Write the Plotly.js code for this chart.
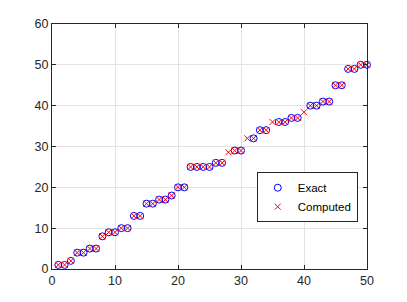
<!DOCTYPE html>
<html>
<head>
<script src="https://cdn.plot.ly/plotly-3.0.1.min.js"></script>
<style>html,body{margin:0;padding:0;background:#fff;}#chart{width:407px;height:302px;}</style>
</head>
<body>
<div id="chart"></div>
<script>
const xValues = [1,2,3,4,5,6,7,8,9,10,11,12,13,14,15,16,17,18,19,20,21,22,23,24,25,26,27,28,29,30,31,32,33,34,35,36,37,38,39,40,41,42,43,44,45,46,47,48,49,50];
const exactValues = [1,1,2,4,4,5,5,8,9,9,10,10,13,13,16,16,17,17,18,20,20,25,25,25,25,26,26,null,29,29,null,32,34,34,null,36,36,37,37,null,40,40,41,41,45,45,49,49,50,50];
const computedValues = [1,1,2,4,4,5,5,8,9,9,10,10,13,13,16,16,17,17,18,20,20,25,25,25,25,26,26,28.6,29,29,32,32,34,34,36,36,36,37,37,38.4,40,40,41,41,45,45,49,49,50,50];
const seriesNames = ["Exact", "Computed"];
const xTicks = [0,10,20,30,40,50];
const yTicks = [0,10,20,30,40,50,60];

const axisCommon = {
  showgrid: true, gridcolor: '#e3e3e3', gridwidth: 1,
  zeroline: false, showline: true, linecolor: '#262626', linewidth: 1,
  mirror: 'ticks', ticks: 'inside', ticklen: 4, tickcolor: '#262626',
  tickfont: {family: 'Liberation Sans, Arial, sans-serif', size: 12.5, color: '#262626'}
};

const data = [
  {x: xValues, y: exactValues, name: seriesNames[0], mode: 'markers', type: 'scatter', cliponaxis: false,
   marker: {symbol: 'circle-open', size: 7, color: '#0000ff', line: {width: 1, color: '#0000ff'}}},
  {x: xValues, y: computedValues, name: seriesNames[1], mode: 'markers', type: 'scatter', cliponaxis: false,
   marker: {symbol: 'x-thin-open', size: 6, color: '#ff0000', line: {width: 1, color: '#ff0000'}}}
];

const layout = {
  width: 407, height: 302,
  margin: {l: 52, r: 39.5, t: 24, b: 32.5, pad: 0},
  paper_bgcolor: '#ffffff', plot_bgcolor: '#ffffff',
  showlegend: true,
  legend: {x: 0.65, y: 0.293, xanchor: 'left', yanchor: 'middle',
    bgcolor: '#ffffff', bordercolor: '#262626', borderwidth: 1,
    font: {family: 'Liberation Sans, Arial, sans-serif', size: 11.5, color: '#000000'},
    tracegroupgap: 0, itemwidth: 30},
  xaxis: Object.assign({}, axisCommon, {range: [0, 50], tickvals: xTicks, ticktext: xTicks.map(String)}),
  yaxis: Object.assign({}, axisCommon, {range: [0, 60], tickvals: yTicks, ticktext: yTicks.map(String)})
};

Plotly.newPlot('chart', data, layout, {displayModeBar: false, staticPlot: true});
</script>
</body>
</html>
